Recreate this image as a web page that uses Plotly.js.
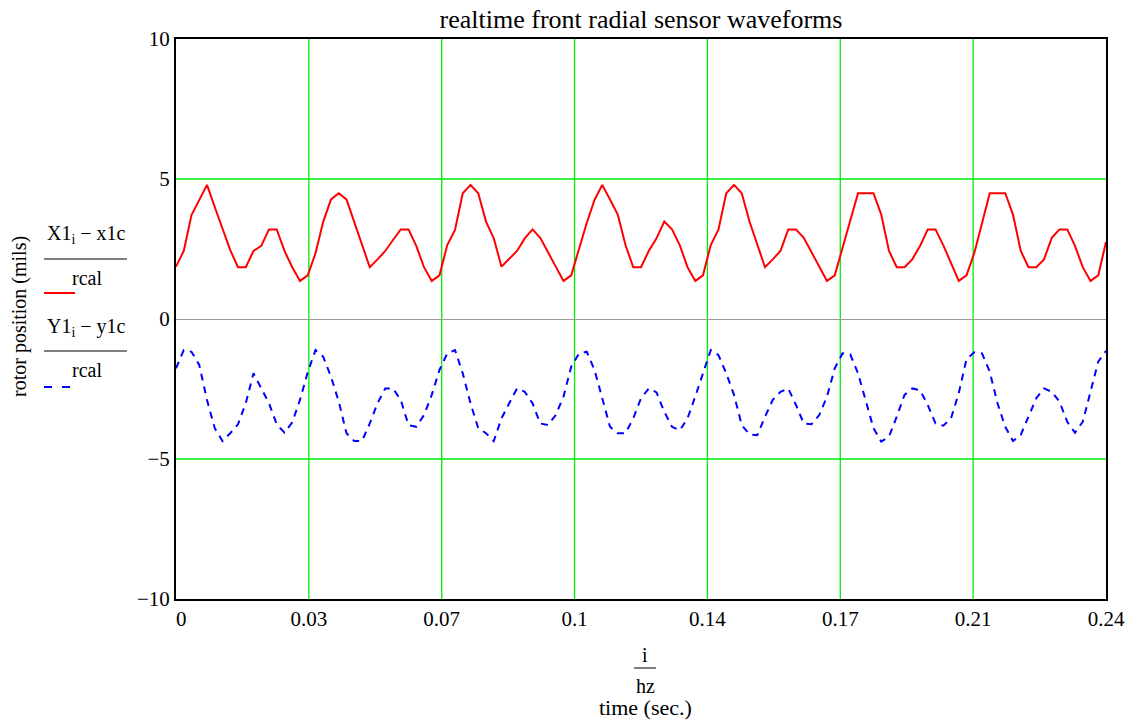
<!DOCTYPE html>
<html>
<head>
<meta charset="utf-8">
<script src="https://cdn.plot.ly/plotly-3.0.1.min.js"></script>
<style>html,body{margin:0;padding:0;background:#fff;}#chart{width:1133px;height:723px;}</style>
</head>
<body>
<div id="chart"></div>
<script>
// time (sec.) = i / hz, sample step 0.002 s
const timeSec = [
  0.000,0.002,0.004,0.006,0.008,0.010,0.012,0.014,0.016,0.018,
  0.020,0.022,0.024,0.026,0.028,0.030,0.032,0.034,0.036,0.038,
  0.040,0.042,0.044,0.046,0.048,0.050,0.052,0.054,0.056,0.058,
  0.060,0.062,0.064,0.066,0.068,0.070,0.072,0.074,0.076,0.078,
  0.080,0.082,0.084,0.086,0.088,0.090,0.092,0.094,0.096,0.098,
  0.100,0.102,0.104,0.106,0.108,0.110,0.112,0.114,0.116,0.118,
  0.120,0.122,0.124,0.126,0.128,0.130,0.132,0.134,0.136,0.138,
  0.140,0.142,0.144,0.146,0.148,0.150,0.152,0.154,0.156,0.158,
  0.160,0.162,0.164,0.166,0.168,0.170,0.172,0.174,0.176,0.178,
  0.180,0.182,0.184,0.186,0.188,0.190,0.192,0.194,0.196,0.198,
  0.200,0.202,0.204,0.206,0.208,0.210,0.212,0.214,0.216,0.218,
  0.220,0.222,0.224,0.226,0.228,0.230,0.232,0.234,0.236,0.238,
  0.240
];

// (X1_i - x1c) / rcal
const xSensor = [
  1.87,2.43,3.71,4.25,4.79,4.00,3.24,2.46,1.85,1.85,
  2.43,2.61,3.20,3.20,2.43,1.85,1.36,1.56,2.35,3.48,
  4.27,4.49,4.27,3.45,2.65,1.85,2.13,2.43,2.82,3.20,
  3.20,2.61,1.85,1.36,1.56,2.64,3.18,4.49,4.79,4.49,
  3.48,2.88,1.87,2.15,2.43,2.88,3.20,2.90,2.36,1.87,
  1.36,1.56,2.50,3.43,4.25,4.79,4.27,3.73,2.64,1.85,
  1.85,2.43,2.88,3.48,3.20,2.64,1.85,1.36,1.56,2.64,
  3.20,4.49,4.79,4.49,3.48,2.64,1.85,2.13,2.43,3.20,
  3.20,2.90,2.38,1.87,1.36,1.56,2.55,3.54,4.49,4.49,
  4.49,3.73,2.43,1.85,1.85,2.13,2.61,3.20,3.20,2.64,
  1.99,1.36,1.56,2.35,3.42,4.49,4.49,4.49,3.73,2.43,
  1.85,1.85,2.13,2.90,3.20,3.20,2.61,1.85,1.36,1.56,
  2.75
];

// (Y1_i - y1c) / rcal
const ySensor = [
  -1.76,-1.11,-1.17,-1.64,-2.89,-3.90,-4.36,-4.08,-3.76,-3.01,
  -1.94,-2.50,-3.01,-3.76,-4.06,-3.69,-2.89,-1.90,-1.11,-1.35,
  -2.06,-2.95,-4.08,-4.36,-4.36,-3.73,-3.01,-2.48,-2.48,-2.89,
  -3.79,-3.85,-3.43,-2.71,-1.82,-1.23,-1.11,-1.94,-3.01,-3.90,
  -4.08,-4.36,-3.55,-3.01,-2.48,-2.60,-3.01,-3.73,-3.79,-3.43,
  -2.77,-1.70,-1.23,-1.17,-1.82,-2.83,-3.85,-4.08,-4.08,-3.55,
  -2.83,-2.48,-2.62,-3.31,-3.85,-3.98,-3.55,-2.77,-1.94,-1.11,
  -1.29,-1.94,-2.71,-3.79,-4.12,-4.15,-3.49,-2.89,-2.60,-2.48,
  -3.07,-3.73,-3.76,-3.43,-2.77,-1.76,-1.23,-1.26,-1.94,-2.95,
  -3.90,-4.38,-4.20,-3.49,-2.71,-2.48,-2.54,-3.07,-3.73,-3.81,
  -3.55,-2.65,-1.43,-1.19,-1.23,-1.88,-3.01,-3.85,-4.36,-4.14,
  -3.49,-2.83,-2.48,-2.60,-2.95,-3.67,-4.06,-3.67,-2.60,-1.52,
  -1.14
];

const xTickVals = [0, 0.24/7, 0.48/7, 0.72/7, 0.96/7, 1.2/7, 1.44/7, 0.24];
const xTickText = ["  0", "0.03", "0.07", "0.1", "0.14", "0.17", "0.21", "0.24"];
const yTickVals = [-10, -5, 0, 5, 10];
const yTickText = ["\u221210", "\u22125", "0", "5", "10"];
const yGridVals = [-5, 5];

const FONT = "'Liberation Serif', 'Times New Roman', serif";
const GREEN = "#00ee00";

const traces = [
  {x: timeSec, y: xSensor, type: "scatter", mode: "lines",
   line: {color: "#ff0000", width: 2}, name: "X", hoverinfo: "x+y"},
  {x: timeSec, y: ySensor, type: "scatter", mode: "lines",
   line: {color: "#0000ff", width: 2, dash: "7px,6px"}, name: "Y", hoverinfo: "x+y"}
];

const ann = (x, y, text, size, extra) => Object.assign({
  xref: "paper", yref: "paper", x: x, y: y, text: text, showarrow: false,
  font: {family: FONT, size: size, color: "#000"}, xanchor: "center", yanchor: "middle"
}, extra || {});

// helpers to convert pixel positions to paper coords
const L = 176, R = 1106, T = 39, B = 599;
const px = v => (v - L) / (R - L);
const py = v => (B - v) / (B - T);

const gridShapes = [];
xTickVals.slice(1, -1).forEach(v => gridShapes.push({
  type: "line", xref: "x", yref: "paper", x0: v, x1: v, y0: 0, y1: 1, layer: "below",
  line: {color: GREEN, width: 1.3}
}));
yGridVals.forEach(v => gridShapes.push({
  type: "line", xref: "paper", yref: "y", x0: 0, x1: 1, y0: v, y1: v, layer: "below",
  line: {color: GREEN, width: 1.3}
}));

const layout = {
  width: 1133, height: 723,
  margin: {l: L, r: 1133 - R, t: T, b: 723 - B, pad: 0},
  paper_bgcolor: "#fff", plot_bgcolor: "#fff",
  showlegend: false,
  font: {family: FONT, size: 21, color: "#000"},
  title: {text: "realtime front radial sensor waveforms", font: {family: FONT, size: 26, color: "#000"},
          x: 0.5, xref: "paper", xanchor: "center", y: 1 - 19/723, yanchor: "middle"},
  xaxis: {
    range: [0, 0.24], tickmode: "array", tickvals: xTickVals, ticktext: xTickText,
    showgrid: false, zeroline: false, showline: true, linecolor: "#000", linewidth: 2, mirror: true,
    ticks: "", ticklen: 0, tickfont: {family: FONT, size: 21, color: "#000"}
  },
  yaxis: {
    range: [-10, 10], tickmode: "array", tickvals: yTickVals, ticktext: yTickText,
    showgrid: false, zeroline: true, zerolinecolor: "#999999", zerolinewidth: 1,
    showline: true, linecolor: "#000", linewidth: 2, mirror: true,
    ticks: "", ticklen: 0, tickfont: {family: FONT, size: 21, color: "#000"}
  },
  annotations: [
    ann(px(19), py(317), "rotor position (mils)", 20, {textangle: -90}),
    ann(px(86), py(234), "X1<sub>i</sub> \u2212 x1c", 20),
    ann(px(87), py(278), "rcal", 20),
    ann(px(86), py(327), "Y1<sub>i</sub> \u2212 y1c", 20),
    ann(px(87), py(370), "rcal", 20),
    ann(px(645), py(655), "i", 20),
    ann(px(645), py(686), "hz", 20),
    ann(px(645), py(707), "time (sec.)", 22)
  ],
  shapes: gridShapes.concat([
    {type: "line", xref: "paper", yref: "paper", x0: px(44), x1: px(127), y0: py(259), y1: py(259),
     line: {color: "#000", width: 1}},
    {type: "line", xref: "paper", yref: "paper", x0: px(44), x1: px(75), y0: py(293), y1: py(293),
     line: {color: "#ff0000", width: 2}},
    {type: "line", xref: "paper", yref: "paper", x0: px(44), x1: px(127), y0: py(351), y1: py(351),
     line: {color: "#000", width: 1}},
    {type: "line", xref: "paper", yref: "paper", x0: px(44), x1: px(71), y0: py(387), y1: py(387),
     line: {color: "#0000ff", width: 2, dash: "8px,10px"}},
    {type: "line", xref: "paper", yref: "paper", x0: px(634), x1: px(656), y0: py(668), y1: py(668),
     line: {color: "#000", width: 1}}
  ])
};

Plotly.newPlot("chart", traces, layout, {displayModeBar: false, staticPlot: true});
</script>
</body>
</html>
